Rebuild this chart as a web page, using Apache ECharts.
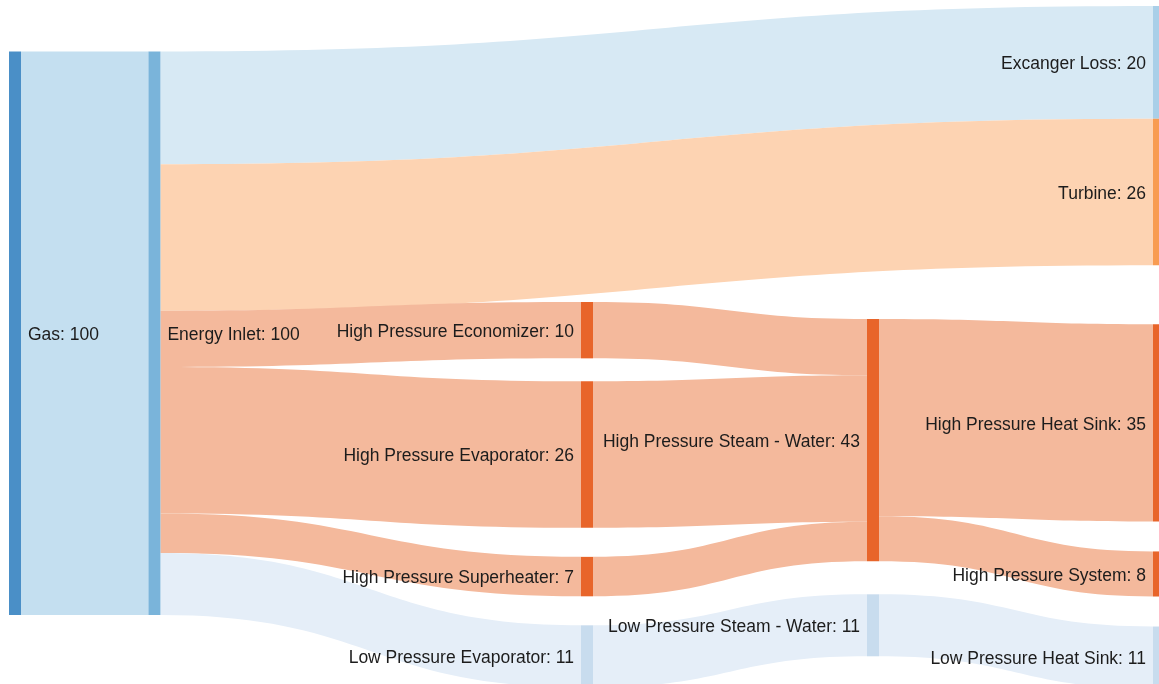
<!DOCTYPE html>
<html>
<head>
<meta charset="utf-8">
<title>Energy balance</title>
<script src="https://cdn.jsdelivr.net/npm/echarts@6/dist/echarts.min.js"></script>
<style>
  html, body { margin: 0; padding: 0; background: #ffffff; }
  #chart { width: 1159px; height: 684px; }
</style>
</head>
<body>
<div id="chart"></div>
<script>
// Nodes of the energy flow
const nodeNames = [
  'Gas',
  'Energy Inlet',
  'Excanger Loss',
  'Turbine',
  'High Pressure Economizer',
  'High Pressure Evaporator',
  'High Pressure Superheater',
  'Low Pressure Evaporator',
  'High Pressure Steam - Water',
  'Low Pressure Steam - Water',
  'High Pressure Heat Sink',
  'High Pressure System',
  'Low Pressure Heat Sink'
];

// Flows between nodes
const linkSources = [
  'Gas',
  'Energy Inlet', 'Energy Inlet', 'Energy Inlet', 'Energy Inlet', 'Energy Inlet', 'Energy Inlet',
  'High Pressure Economizer', 'High Pressure Evaporator', 'High Pressure Superheater',
  'Low Pressure Evaporator',
  'High Pressure Steam - Water', 'High Pressure Steam - Water',
  'Low Pressure Steam - Water'
];
const linkTargets = [
  'Energy Inlet',
  'Excanger Loss', 'Turbine', 'High Pressure Economizer', 'High Pressure Evaporator', 'High Pressure Superheater', 'Low Pressure Evaporator',
  'High Pressure Steam - Water', 'High Pressure Steam - Water', 'High Pressure Steam - Water',
  'Low Pressure Steam - Water',
  'High Pressure Heat Sink', 'High Pressure System',
  'Low Pressure Heat Sink'
];
const linkValues = [100, 20, 26, 10, 26, 7, 11, 10, 26, 7, 11, 35, 8, 11];

// ---- layout ----
const SERIES_LEFT = 9;
const SERIES_TOP = 0;
const SERIES_WIDTH = 1156;
const SERIES_HEIGHT = 684;
const NODE_WIDTH = 12;
const NODE_GAP = 24.1;
const LAST_COLUMN = 8;

// horizontal position of every node, in steps of an 8-column grid
const columnOf = {
  'Gas': 0,
  'Energy Inlet': 0.975,
  'High Pressure Economizer': 4,
  'High Pressure Evaporator': 4,
  'High Pressure Superheater': 4,
  'Low Pressure Evaporator': 4,
  'High Pressure Steam - Water': 6,
  'Low Pressure Steam - Water': 6,
  'Excanger Loss': 8,
  'Turbine': 8,
  'High Pressure Heat Sink': 8,
  'High Pressure System': 8,
  'Low Pressure Heat Sink': 8
};
// Stacking depth used by the sankey layout. The two direct outputs of the
// inlet share the middle depth so the inlet's outgoing bands keep their
// top-to-bottom order; they are still drawn in the last column.
const stackDepthOf = {
  'Gas': 0,
  'Energy Inlet': 1,
  'Excanger Loss': 4,
  'Turbine': 4,
  'High Pressure Economizer': 4,
  'High Pressure Evaporator': 4,
  'High Pressure Superheater': 4,
  'Low Pressure Evaporator': 4,
  'High Pressure Steam - Water': 6,
  'Low Pressure Steam - Water': 6,
  'High Pressure Heat Sink': 8,
  'High Pressure System': 8,
  'Low Pressure Heat Sink': 8
};

// fixed arrangement: where each drawn column starts and the spacing above each node
const columnStart = { 0: 51.5, 0.975: 51.5, 4: 302, 6: 319, 8: 6 };
const spaceAbove = {
  'High Pressure Evaporator': 23,
  'High Pressure Superheater': 29,
  'Low Pressure Evaporator': 29,
  'Low Pressure Steam - Water': 33,
  'Turbine': 0,
  'High Pressure Heat Sink': 59,
  'High Pressure System': 30,
  'Low Pressure Heat Sink': 30
};

// ---- styling ----
const HP_NODE = '#e8652a', HP_LINK = '#f4b99c';
const LP_NODE = '#c8dcee', LP_LINK = '#e5eef8';
const nodeColor = {
  'Gas': '#4a8fc7',
  'Energy Inlet': '#7ab4da',
  'Excanger Loss': '#a9cfe8',
  'Turbine': '#f89c52',
  'Low Pressure Evaporator': LP_NODE,
  'Low Pressure Steam - Water': LP_NODE,
  'Low Pressure Heat Sink': LP_NODE
};
const linkColorByTarget = {
  'Energy Inlet': '#c4dff0',
  'Excanger Loss': '#d7e9f4',
  'Turbine': '#fdd3b2',
  'Low Pressure Evaporator': LP_LINK,
  'Low Pressure Steam - Water': LP_LINK,
  'Low Pressure Heat Sink': LP_LINK
};
const labelRight = { 'Gas': true, 'Energy Inlet': true };

// node throughput = max(inflow, outflow), as the sankey layout computes it
const inflow = {}, outflow = {};
linkValues.forEach(function (v, i) {
  outflow[linkSources[i]] = (outflow[linkSources[i]] || 0) + v;
  inflow[linkTargets[i]] = (inflow[linkTargets[i]] || 0) + v;
});
function throughput(name) { return Math.max(inflow[name] || 0, outflow[name] || 0); }
function groupBy(table) {
  const groups = {};
  nodeNames.forEach(function (n) { (groups[table[n]] = groups[table[n]] || []).push(n); });
  return groups;
}

// vertical scale: same rule as the sankey layout (tightest stacked depth wins)
let ky = Infinity;
const stacked = groupBy(stackDepthOf);
Object.keys(stacked).forEach(function (d) {
  const list = stacked[d];
  const total = list.reduce(function (s, n) { return s + throughput(n); }, 0);
  ky = Math.min(ky, (SERIES_HEIGHT - (list.length - 1) * NODE_GAP) / total);
});

// stack the nodes of each drawn column from its start, using the spacing table
const nodeTop = {};
const drawn = groupBy(columnOf);
Object.keys(drawn).forEach(function (c) {
  let y = columnStart[c];
  drawn[c].forEach(function (n, i) {
    if (i > 0) y += spaceAbove[n] || 0;
    nodeTop[n] = y;
    y += throughput(n) * ky;
  });
});

const columnStep = (SERIES_WIDTH - NODE_WIDTH) / LAST_COLUMN;

const nodes = nodeNames.map(function (name) {
  return {
    name: name,
    depth: stackDepthOf[name],
    localX: columnOf[name] * columnStep / SERIES_WIDTH,
    localY: (nodeTop[name] - SERIES_TOP) / SERIES_HEIGHT,
    itemStyle: { color: nodeColor[name] || HP_NODE },
    label: { position: labelRight[name] ? 'right' : 'left' }
  };
});

const links = linkValues.map(function (v, i) {
  return {
    source: linkSources[i],
    target: linkTargets[i],
    value: v,
    lineStyle: { color: linkColorByTarget[linkTargets[i]] || HP_LINK }
  };
});

const chart = echarts.init(document.getElementById('chart'), null, { renderer: 'canvas' });
chart.setOption({
  animation: false,
  backgroundColor: '#ffffff',
  series: [{
    type: 'sankey',
    left: SERIES_LEFT,
    top: SERIES_TOP,
    width: SERIES_WIDTH,
    height: SERIES_HEIGHT,
    nodeWidth: NODE_WIDTH,
    nodeGap: NODE_GAP,
    nodeAlign: 'left',
    layoutIterations: 0,
    draggable: false,
    emphasis: { disabled: true },
    data: nodes,
    links: links,
    itemStyle: { borderWidth: 0 },
    lineStyle: { opacity: 1, curveness: 0.5 },
    label: {
      show: true,
      distance: 7,
      offset: [0, 2],
      color: '#1c1c1c',
      fontFamily: 'Liberation Sans, Arial, sans-serif',
      fontSize: 17.5,
      formatter: function (p) { return p.name + ': ' + p.value; }
    }
  }]
});
</script>
</body>
</html>
